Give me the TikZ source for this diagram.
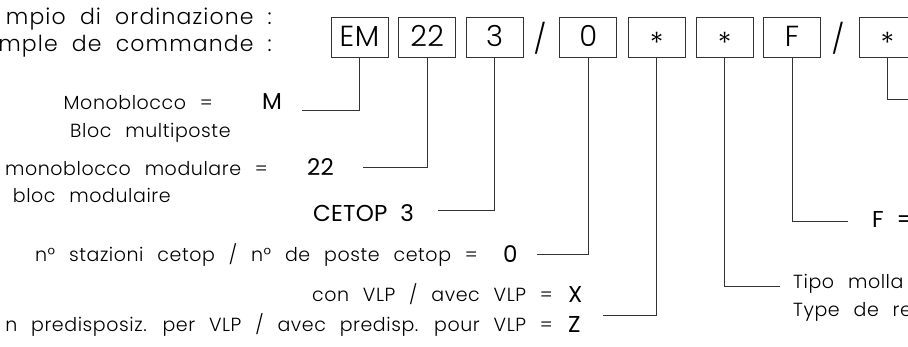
\documentclass[tikz,border=0pt]{standalone}
\usepackage{fontspec}
\newcommand\cadsetup[2]{%
  \newfontfamily\cadfont[LetterSpace=3,WordSpace=2.4]{#1}%
  \newfontfamily\cadttl[LetterSpace=5,WordSpace=2.0]{#1}%
  \newfontfamily\cadval[LetterSpace=1,WordSpace=2.0]{#2}%
  \newfontfamily\cadbox[LetterSpace=2]{#1}}
\IfFontExistsTF{Poppins Light}{\cadsetup{Poppins Light}{Poppins}}{\cadsetup{Poppins}{Poppins}}
\newcommand\lblfont{\cadfont\fontsize{19}{19}\selectfont}
\newcommand\ttlfont{\cadttl\fontsize{22}{22}\selectfont}
\newcommand\valfont{\cadval\fontsize{23}{23}\selectfont}
\newcommand\boxfont{\cadbox\fontsize{29}{29}\selectfont}
\begin{document}
\begin{tikzpicture}[x=1pt,y=-1pt,
  conn/.style={draw=black!80, line width=0.9pt},
  codebox/.style={draw=black!80, line width=0.9pt, minimum width=57pt,
    minimum height=40pt, inner sep=0pt, text height=20pt, text depth=0pt,
    font=\boxfont},
  lbl/.style={inner sep=0pt, font=\lblfont},
  ttl/.style={inner sep=0pt, font=\ttlfont},
  val/.style={inner sep=0pt, font=\valfont}]
\useasboundingbox (0,0) rectangle (908,347);
\clip (0,0) rectangle (908,347);
\fill[white] (0,0) rectangle (908,347);

% title
\node[ttl, anchor=base east] (t1) at (272,25) {mpio di ordinazione :};
\node[ttl, anchor=base east] (t2) at (272,52) {mple de commande :};

% code boxes
\node[codebox] (bEM) at (359.5,37) {EM};
\node[codebox] (b22) at (427.2,37) {22};
\node[codebox] (b3)  at (494.5,37) {3};
\node[inner sep=0pt, font=\boxfont, anchor=base] (s1) at (540,50) {/};
\node[codebox] (b0)  at (588.3,37) {0};
\node[codebox] (bA)  at (656.7,37) {\raisebox{-7pt}{*}};
\node[codebox] (bB)  at (724.7,37) {\raisebox{-7pt}{*}};
\node[codebox] (bF)  at (792,37) {F};
\node[inner sep=0pt, font=\boxfont, anchor=base] (s2) at (838,50) {/};
\node[codebox] (bC)  at (887.5,37) {\raisebox{-7pt}{*}};

% labels
\node[lbl, anchor=base east] (l1)  at (213,110) {Monoblocco =};
\node[val, anchor=base west] (vM)  at (262,110) {M};
\node[lbl, anchor=base west] (l1b) at (70,138) {Bloc multiposte};
\node[lbl, anchor=base east] (l2)  at (268,176) {monoblocco modulare =};
\node[val, anchor=base west] (v22) at (307,176) {22};
\node[lbl, anchor=base west] (l2b) at (12.7,203) {bloc modulaire};
\node[val, anchor=base west] (vC)  at (313,222) {CETOP 3};
\node[lbl, anchor=base east] (l3)  at (478,262) {n° stazioni cetop / n° de poste cetop =};
\node[val, anchor=base west] (v0)  at (503,263) {0};
\node[lbl, anchor=base east] (l4)  at (553,302) {con VLP / avec VLP =};
\node[val, anchor=base west] (vX)  at (568,303) {X};
\node[lbl, anchor=base east] (l5)  at (553,332) {n predisposiz. per VLP / avec predisp. pour VLP =};
\node[val, anchor=base west] (vZ)  at (568,333) {Z};
\node[lbl, anchor=base west] (l6)  at (793,289) {Tipo molla};
\node[lbl, anchor=base west] (l7)  at (793,317) {Type de re};
\node[val, anchor=base west] (vF)  at (872,228) {F =};

% leader end points
\coordinate (eM)  at (302,110);
\coordinate (e22) at (362.7,167);
\coordinate (e3)  at (438.3,210);
\coordinate (e0)  at (537,254);
\coordinate (eA)  at (603,315);
\coordinate (eB)  at (780,286);
\coordinate (eF)  at (848,221);
\coordinate (eC)  at (915,99);

% connectors
\draw[conn] (bEM.south) |- (eM);
\draw[conn] (b22.south) |- (e22);
\draw[conn] (b3.south)  |- (e3);
\draw[conn] (b0.south)  |- (e0);
\draw[conn] (bA.south)  |- (eA);
\draw[conn] (bB.south)  |- (eB);
\draw[conn] (bF.south)  |- (eF);
\draw[conn] (bC.south)  |- (eC);
\end{tikzpicture}
\end{document}
